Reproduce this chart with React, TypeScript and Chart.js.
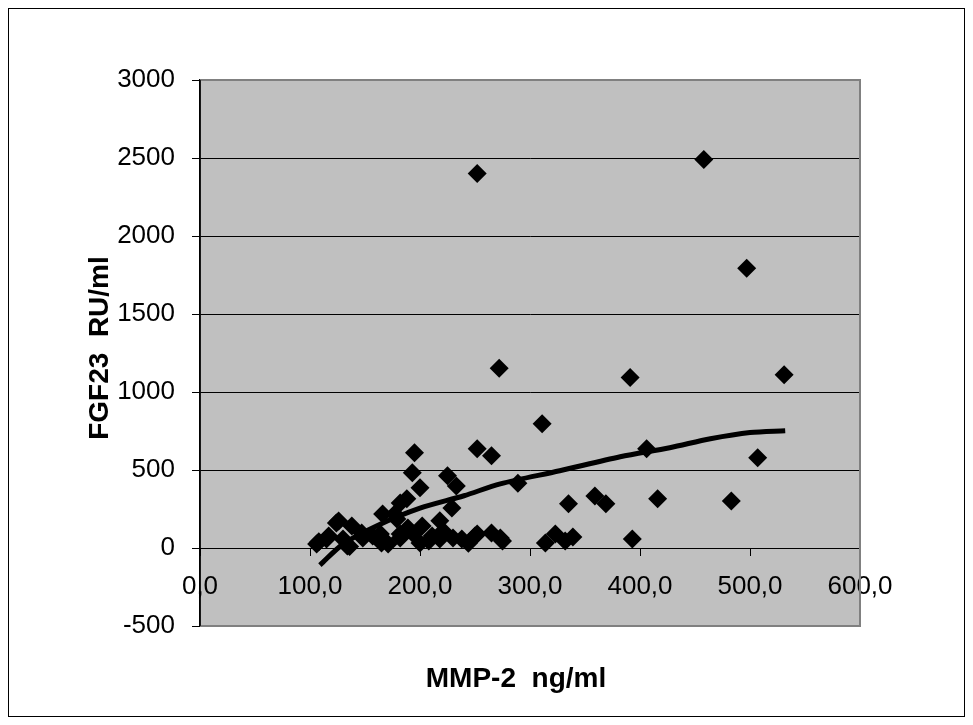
import React, { useEffect, useRef } from "react";
import { Chart, registerables } from "chart.js";

Chart.register(...registerables);

// MMP-2 (ng/ml) values of each patient
const mmp2: number[] = [
  252, 458, 497, 272, 391, 531, 311, 406, 507, 289,
  335, 359, 369, 416, 483, 314, 323, 332, 339, 393,
  275, 195, 252, 265, 193, 200, 225, 233, 188, 229,
  218, 202, 166, 179, 124, 138, 106, 115, 134, 148,
  164, 171, 182, 194, 200, 211, 221, 230, 238, 250,
  265, 218, 189, 117, 130, 136, 147, 157, 177, 182,
  165, 182, 252, 273, 108, 126, 208, 244,
];
// FGF23 (RU/ml) values of each patient
const fgf23: number[] = [
  2400, 2490, 1793, 1152, 1093, 1110, 797, 636, 578, 415,
  283, 334, 283, 315, 302, 32, 90, 45, 71, 58,
  45, 611, 636, 591, 482, 386, 463, 398, 315, 257,
  174, 141, 218, 186, 161, 141, 26, 58, 13, 64,
  90, 26, 64, 90, 32, 77, 109, 64, 58, 77,
  96, 58, 129, 77, 58, 10, 96, 77, 218, 289,
  32, 90, 90, 64, 40, 173, 45, 30,
];

// trend line
const trendX: number[] = [109, 130, 160, 200, 240, 273, 327, 382, 427, 464, 500, 532];
const trendY: number[] = [-110, 25, 140, 255, 335, 411, 495, 585, 643, 700, 740, 752];

const xTicks: number[] = [0, 100, 200, 300, 400, 500, 600];
const yMin = -500;
const yMax = 3000;
const yStep = 500;
const xTitle = "MMP-2  ng/ml";
const yTitle = "FGF23  RU/ml";

const FONT = "'Liberation Sans', Arial, sans-serif";

export default function App() {
  const ref = useRef<HTMLCanvasElement>(null);

  useEffect(() => {
    if (!ref.current) return;
    const points = mmp2.map((x, i) => ({ x, y: fgf23[i] }));
    const trend = trendX.map((x, i) => ({ x, y: trendY[i] }));

    const deco = {
      id: "deco",
      beforeDraw(chart: any) {
        const { ctx, chartArea: a } = chart;
        ctx.save();
        ctx.fillStyle = "#C0C0C0";
        ctx.fillRect(a.left, a.top, a.right - a.left, a.bottom - a.top);
        ctx.restore();
      },
      afterDraw(chart: any) {
        const { ctx, chartArea: a, width, height } = chart;
        ctx.save();
        ctx.strokeStyle = "#808080";
        ctx.lineWidth = 2;
        ctx.beginPath();
        ctx.moveTo(a.left, a.top);
        ctx.lineTo(a.right, a.top);
        ctx.lineTo(a.right, a.bottom);
        ctx.lineTo(a.left, a.bottom);
        ctx.stroke();
        ctx.strokeStyle = "#000";
        ctx.lineWidth = 1.5;
        ctx.beginPath();
        ctx.moveTo(a.left, a.top);
        ctx.lineTo(a.left, a.bottom);
        ctx.stroke();
        ctx.lineWidth = 1;
        ctx.strokeRect(0.5, 0.5, width - 1, height - 1);
        ctx.fillStyle = "#000";
        ctx.font = `bold 28px ${FONT}`;
        ctx.textAlign = "center";
        ctx.textBaseline = "middle";
        ctx.fillText(xTitle, 508, 671);
        ctx.translate(92, 340);
        ctx.rotate(-Math.PI / 2);
        ctx.fillText(yTitle, 0, 0);
        ctx.restore();
      },
    };

    const chart = new Chart(ref.current, {
      type: "scatter",
      data: {
        datasets: [
          {
            type: "line",
            data: trend,
            borderColor: "#000",
            borderWidth: 5,
            pointRadius: 0,
            fill: false,
            tension: 0.3,
          } as any,
          {
            data: points,
            pointStyle: "rectRot",
            pointRadius: 9.5,
            pointHoverRadius: 9.5,
            backgroundColor: "#000",
            borderColor: "#000",
            borderWidth: 0,
          },
        ],
      },
      options: {
        animation: false,
        responsive: false,
        events: [],
        layout: { padding: { left: 0, top: 72, right: 105, bottom: 91 } },
        plugins: { legend: { display: false }, tooltip: { enabled: false } },
        scales: {
          x: {
            type: "linear",
            position: { y: 0 } as any,
            min: xTicks[0],
            max: xTicks[xTicks.length - 1],
            afterBuildTicks: (s: any) => {
              s.ticks = xTicks.map((v) => ({ value: v }));
            },
            ticks: {
              color: "#000",
              font: { family: FONT, size: 26 },
              padding: 16,
              maxRotation: 0,
              autoSkip: false,
              callback: (v: any) => Number(v).toFixed(1).replace(".", ","),
            },
            grid: { drawOnChartArea: false, tickLength: 7, tickColor: "#000" },
            border: { display: true, color: "#000", width: 1 },
          },
          y: {
            type: "linear",
            min: yMin,
            max: yMax,
            afterFit: (s: any) => {
              s.width = 192;
            },
            ticks: {
              stepSize: yStep,
              color: "#000",
              font: { family: FONT, size: 26 },
              padding: 17,
              callback: (v: any) => String(v),
            },
            grid: {
              color: (c: any) =>
                c.tick && (c.tick.value === yMin || c.tick.value === yMax) ? "rgba(0,0,0,0)" : "#000",
              lineWidth: 1,
              tickLength: 8,
              tickColor: "#000",
            },
            border: { display: true, color: "#000", width: 1.5 },
          },
        },
      },
      plugins: [deco],
    });
    return () => chart.destroy();
  }, []);

  return <canvas ref={ref} width={957} height={709} style={{ display: "block" }} />;
}
